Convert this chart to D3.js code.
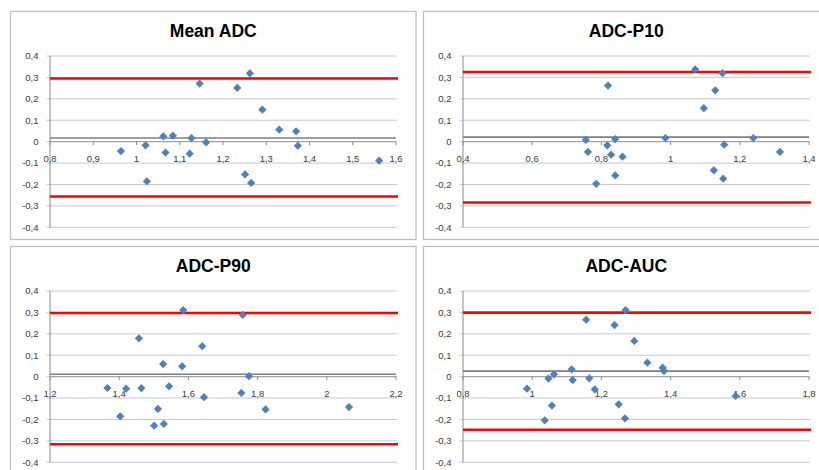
<!DOCTYPE html>
<html>
<head>
<meta charset="utf-8">
<script src="https://cdn.jsdelivr.net/npm/d3@7"></script>
<style>
  body { margin: 0; background: #fff; }
  text { font-family: "Liberation Sans", Arial, sans-serif; }
</style>
</head>
<body>
<div id="chart"></div>
<script>
// values
var titles = ["Mean ADC", "ADC-P10", "ADC-P90", "ADC-AUC"];

var meanX = [0.964, 1.021, 1.024, 1.062, 1.067, 1.084, 1.123, 1.127, 1.146, 1.161, 1.233, 1.251, 1.262, 1.265, 1.291, 1.330, 1.369, 1.373, 1.561];
var meanY = [-0.044, -0.017, -0.185, 0.025, -0.051, 0.028, -0.056, 0.017, 0.271, -0.003, 0.251, -0.153, 0.319, -0.193, 0.149, 0.056, 0.048, -0.019, -0.089];

var p10X = [0.755, 0.761, 0.819, 0.817, 0.828, 0.840, 0.840, 0.861, 0.785, 0.985, 1.071, 1.096, 1.129, 1.150, 1.155, 1.125, 1.152, 1.239, 1.316];
var p10Y = [0.008, -0.048, 0.262, -0.017, -0.061, 0.012, -0.158, -0.070, -0.197, 0.017, 0.337, 0.156, 0.240, 0.320, -0.014, -0.134, -0.173, 0.017, -0.048];

var p90X = [1.366, 1.403, 1.420, 1.457, 1.464, 1.501, 1.512, 1.527, 1.529, 1.544, 1.582, 1.585, 1.640, 1.645, 1.753, 1.757, 1.775, 1.823, 2.064];
var p90Y = [-0.053, -0.185, -0.056, 0.179, -0.054, -0.229, -0.151, 0.059, -0.221, -0.045, 0.048, 0.311, 0.142, -0.096, -0.076, 0.288, 0.002, -0.153, -0.142];

var aucX = [0.985, 1.036, 1.047, 1.057, 1.063, 1.114, 1.117, 1.156, 1.165, 1.181, 1.238, 1.250, 1.268, 1.270, 1.295, 1.333, 1.377, 1.381, 1.588];
var aucY = [-0.056, -0.204, -0.009, -0.135, 0.011, 0.034, -0.016, 0.266, -0.008, -0.059, 0.241, -0.129, -0.195, 0.311, 0.167, 0.065, 0.042, 0.026, -0.090];

// mean difference and limits of agreement
var biasLines = [0.017, 0.021, 0.011, 0.026];
var upperLimits = [0.295, 0.325, 0.297, 0.299];
var lowerLimits = [-0.256, -0.284, -0.316, -0.248];

// axis ticks
var meanTicks = [0.8, 0.9, 1, 1.1, 1.2, 1.3, 1.4, 1.5, 1.6];
var p10Ticks = [0.4, 0.6, 0.8, 1, 1.2, 1.4];
var p90Ticks = [1.2, 1.4, 1.6, 1.8, 2, 2.2];
var aucTicks = [0.8, 1, 1.2, 1.4, 1.6, 1.8];
var yTicks = [-0.4, -0.3, -0.2, -0.1, 0, 0.1, 0.2, 0.3, 0.4];

var xs = [meanX, p10X, p90X, aucX];
var ys = [meanY, p10Y, p90Y, aucY];
var xTicks = [meanTicks, p10Ticks, p90Ticks, aucTicks];

var width = 819, height = 470;
var boxW = 405.5, boxH = 228;
var boxes = [[10.5, 11.5], [423.5, 11.5], [10.5, 246.5], [423.5, 246.5]];

var svg = d3.select("#chart").append("svg")
    .attr("width", width)
    .attr("height", height);

function fmt(v) {
  return String(+v.toFixed(2)).replace(".", ",");
}

var diamond = d3.symbol().type(d3.symbolSquare).size(34);

titles.forEach(function(title, i) {
  var bx = boxes[i][0], by = boxes[i][1];
  var g = svg.append("g");

  // chart frame
  g.append("rect")
      .attr("x", bx).attr("y", by)
      .attr("width", boxW).attr("height", boxH)
      .attr("fill", "#fff")
      .attr("stroke", "#bdbdbd")
      .attr("stroke-width", 1.2);

  g.append("text")
      .attr("x", bx + boxW / 2)
      .attr("y", by + 25.5)
      .attr("text-anchor", "middle")
      .style("font-size", "17.5px")
      .style("font-weight", "bold")
      .attr("fill", "#000")
      .text(title);

  var ticks = xTicks[i];
  var left = bx + 39.5, top = by + 44.5;
  var x = d3.scaleLinear().domain([ticks[0], ticks[ticks.length - 1]]).range([left, left + 346]);
  var y = d3.scaleLinear().domain([-0.4, 0.4]).range([top + 171.3, top]);

  // horizontal gridlines
  g.selectAll(".grid").data(yTicks).enter().append("line")
      .attr("x1", x.range()[0] - 3.5).attr("x2", x.range()[1] + 1)
      .attr("y1", function(d) { return y(d); })
      .attr("y2", function(d) { return y(d); })
      .attr("stroke", "#c8c8c8")
      .attr("stroke-width", 1);

  // y axis
  g.append("line")
      .attr("x1", x.range()[0]).attr("x2", x.range()[0])
      .attr("y1", y(0.4)).attr("y2", y(-0.4))
      .attr("stroke", "#8a8a8a");

  g.selectAll(".ylab").data(yTicks).enter().append("text")
      .attr("x", x.range()[0] - 11.5)
      .attr("y", function(d) { return y(d) + 3.4; })
      .attr("text-anchor", "end")
      .style("font-size", "9.5px")
      .attr("fill", "#3a3a3a")
      .text(fmt);

  // x axis through zero
  g.append("line")
      .attr("x1", x.range()[0]).attr("x2", x.range()[1])
      .attr("y1", y(0)).attr("y2", y(0))
      .attr("stroke", "#9a9a9a");

  g.selectAll(".xtick").data(ticks).enter().append("line")
      .attr("x1", function(d) { return x(d); })
      .attr("x2", function(d) { return x(d); })
      .attr("y1", y(0)).attr("y2", y(0) + 3.5)
      .attr("stroke", "#8a8a8a");

  g.selectAll(".xlab").data(ticks).enter().append("text")
      .attr("x", function(d) { return x(d); })
      .attr("y", y(0) + 20.5)
      .attr("text-anchor", "middle")
      .style("font-size", "9.5px")
      .attr("fill", "#3a3a3a")
      .text(fmt);

  // mean difference line
  g.append("line")
      .attr("x1", x.range()[0]).attr("x2", x.range()[1])
      .attr("y1", y(biasLines[i])).attr("y2", y(biasLines[i]))
      .attr("stroke", "#7f7f7f")
      .attr("stroke-width", 1.6);

  // limits of agreement
  [upperLimits[i], lowerLimits[i]].forEach(function(v) {
    g.append("line")
        .attr("x1", x.range()[0]).attr("x2", x.range()[1] + 2)
        .attr("y1", y(v)).attr("y2", y(v))
        .attr("stroke", "#ff0000")
        .attr("stroke-width", 2.6);
  });

  var pts = xs[i].map(function(d, j) { return [d, ys[i][j]]; });
  g.selectAll(".pt").data(pts).enter().append("path")
      .attr("d", diamond)
      .attr("transform", function(d) {
        return "translate(" + x(d[0]) + "," + y(d[1]) + ") rotate(45)";
      })
      .attr("fill", "#4f81bd");
});
</script>
</body>
</html>
